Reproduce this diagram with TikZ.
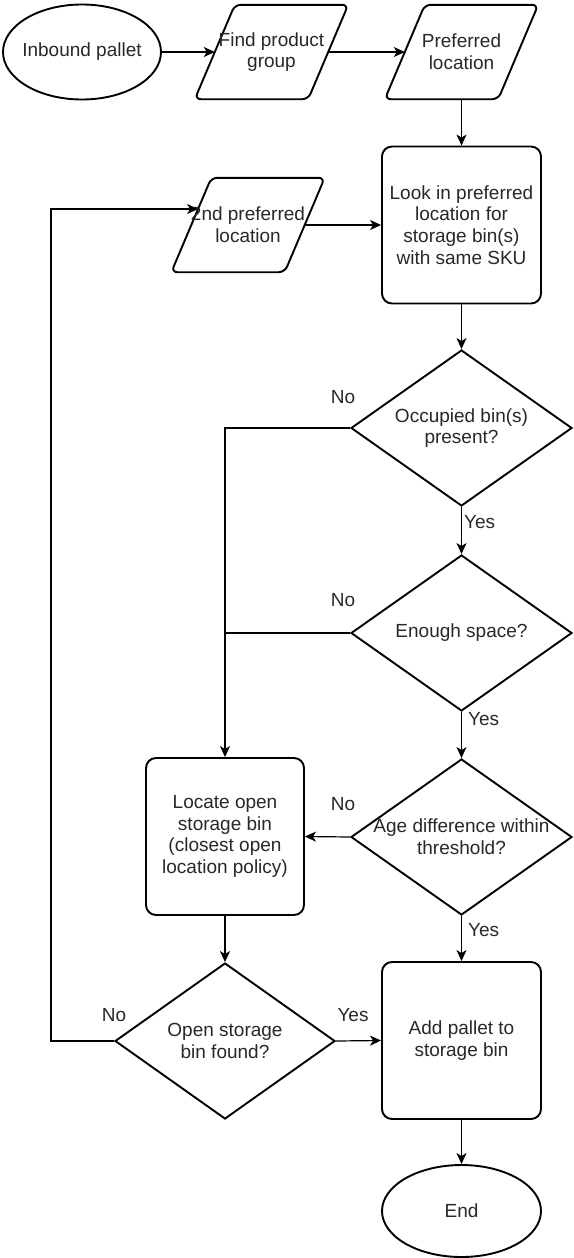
\documentclass[tikz,border=0pt]{standalone}
\usepackage{fontspec}
\setmainfont{Liberation Sans}
\usetikzlibrary{shapes.geometric,arrows.meta}
\definecolor{txtc}{RGB}{40,40,40}
\newcommand\paral[1]{\draw[shp, rounded corners=6pt] ([xshift=20pt]#1.north west) -- ([xshift=20pt]#1.north east) -- ([xshift=-20pt]#1.south east) -- ([xshift=-20pt]#1.south west) -- cycle;}
\begin{document}
\begin{tikzpicture}[x=1pt,y=-1pt,
  txt/.style={font=\fontsize{19}{21.7}\selectfont, text=txtc, align=center, inner sep=0pt},
  shp/.style={draw=black, line width=1.9pt, fill=white},
  term/.style={shp, ellipse, minimum width=158pt, minimum height=95pt, inner sep=0pt},
  io/.style={rectangle, minimum width=113pt, minimum height=94pt, inner sep=0pt},
  proc/.style={shp, rectangle, rounded corners=10pt, minimum width=159pt, minimum height=157pt, txt},
  dec/.style={shp, diamond, minimum width=221pt, minimum height=156pt, inner sep=0pt},
  conn/.style={line width=1.2pt},
  arr/.style={conn, -{Stealth[length=11pt,width=10pt,inset=3pt]}},
  lbl/.style={txt}
]
\useasboundingbox (0,0) rectangle (573,1258);

% nodes
\node[term, label={[txt]center:Inbound pallet}] (start) at (82,52) {};
\node[io] (fpg) at (271.5,52) {};
\paral{fpg}
\node[txt] (fpgt) at (fpg) {Find product\\group};
\node[io] (pref) at (461.5,52) {};
\paral{pref}
\node[txt] (preft) at (pref) {Preferred\\location};
\node[proc] (look) at (461.5,225) {Look in preferred\\location for\\storage bin(s)\\with same SKU};
\node[io] (pref2) at (248,225) {};
\paral{pref2}
\node[txt] (pref2t) at (pref2) {2nd preferred\\location};
\node[dec, label={[txt]center:Occupied bin(s)\\present?}] (d1) at (461.5,428) {};
\node[dec, label={[txt]center:Enough space?}] (d2) at (461.5,633) {};
\node[dec, label={[txt]center:Age difference within\\threshold?}] (d3) at (461.5,837) {};
\node[proc, minimum width=158pt] (locate) at (225,836.5) {Locate open\\storage bin\\(closest open\\location policy)};
\node[proc] (add) at (461.5,1040.5) {Add pallet to\\storage bin};
\node[dec, minimum width=220pt, label={[txt]center:Open storage\\bin found?}] (open) at (225,1041) {};
\node[term, minimum width=159pt, minimum height=92pt, label={[txt]center:End}] (end) at (461.5,1211) {};

\coordinate (lc) at (51,209);
\coordinate (in2) at ([xshift=6.8pt,yshift=16pt]pref2.west);

% connectors
\draw[arr] (start) -- (fpg.west);
\draw[arr] (fpg.east) -- (pref.west);
\draw[arr] (pref.south) -- (look.north);
\draw[arr] (pref2.east) -- (look.west);
\draw[arr] (look) -- (d1);
\draw[arr] (d1) -- (d2);
\draw[arr] (d2) -- (d3);
\draw[arr] (d1.west) -| (locate.north);
\draw[conn] (d2.west) -- (d2.west -| locate.north);
\draw[arr] (d3.west) -- (locate.east);
\draw[arr] (d3) -- (add);
\draw[arr] (locate) -- (open);
\draw[arr] (open.east) -- (add.west);
\draw[arr] (add) -- (end);
\draw[arr] (open.west) -| (lc) -- (in2);

% edge labels
\node[lbl] (no1) at (343,397) {No};
\node[lbl, anchor=west] (yes1) at (464,522) {Yes};
\node[lbl] (no2) at (343,600) {No};
\node[lbl, anchor=west] (yes2) at (468,719) {Yes};
\node[lbl] (no3) at (343,804) {No};
\node[lbl, anchor=west] (yes3) at (468,930) {Yes};
\node[lbl] (no4) at (114,1015) {No};
\node[lbl] (yes4) at (353,1015) {Yes};
\end{tikzpicture}
\end{document}
